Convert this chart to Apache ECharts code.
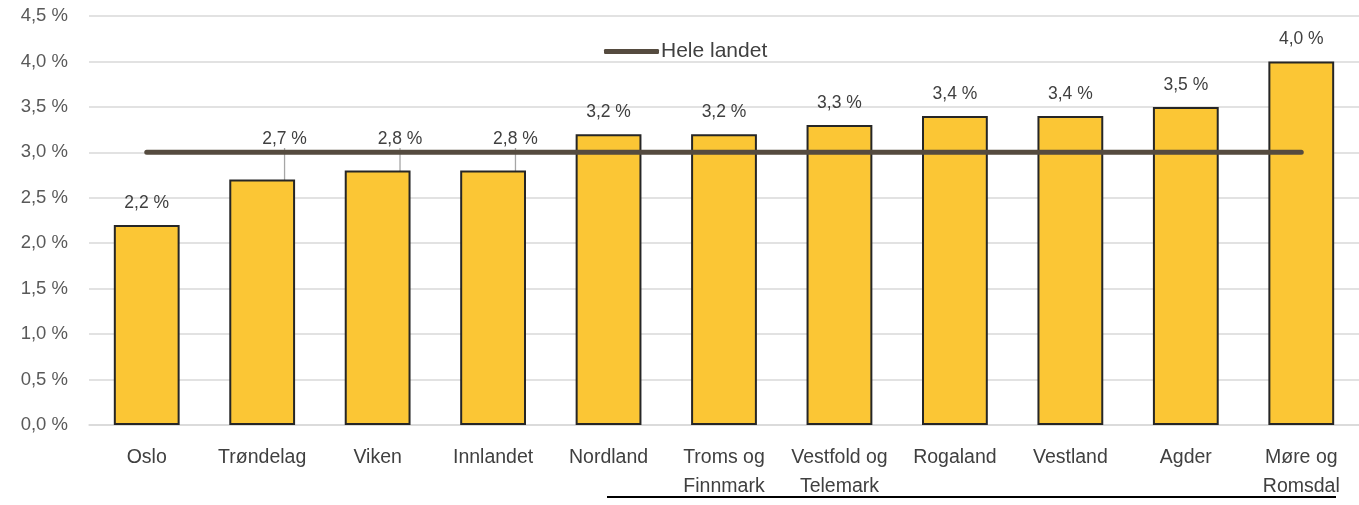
<!DOCTYPE html>
<html>
<head>
<meta charset="utf-8">
<script src="https://cdn.jsdelivr.net/npm/echarts@6/dist/echarts.min.js"></script>
<style>
  html, body { margin: 0; padding: 0; background: #fff; }
  #Chart { width: 1359px; height: 505px; }
</style>
</head>
<body>
<div id="Chart"></div>
<script>
  // fylker, sortert stigende
  var fylker = ['Oslo', 'Trøndelag', 'Viken', 'Innlandet', 'Nordland', 'Troms og\nFinnmark',
    'Vestfold og\nTelemark', 'Rogaland', 'Vestland', 'Agder', 'Møre og\nRomsdal']
  var andel = [2.2, 2.7, 2.8, 2.8, 3.2, 3.2, 3.3, 3.4, 3.4, 3.5, 4.0]
  var heleLandet = [3.0, 3.0, 3.0, 3.0, 3.0, 3.0, 3.0, 3.0, 3.0, 3.0, 3.0]
  // labels som er flyttet opp over linja
  var flyttet = [1, 2, 3]

  var font = '"Liberation Sans", sans-serif'
  var fmt = function (v) { return v.toFixed(1).replace('.', ',') + ' %' }

  var barData = andel.map(function (v, i) {
    var moved = flyttet.indexOf(i) >= 0
    return { value: v, labelLine: { show: moved } }
  })

  var Chart = echarts.init(document.getElementById('Chart'))
  Chart.setOption({
    animation: false,
    textStyle: { fontFamily: font },
    grid: { left: 89, right: 0, top: 16, bottom: 80 },
    legend: {
      left: 599, top: 36,
      icon: 'roundRect',
      itemWidth: 55, itemHeight: 5, itemGap: 4,
      data: ['Hele landet'],
      textStyle: { fontFamily: font, fontSize: 21, color: '#404040', padding: [0, 0, 0, -3] }
    },
    xAxis: {
      type: 'category',
      data: fylker,
      axisLine: { lineStyle: { color: '#d9d9d9', width: 1.5 } },
      axisTick: { show: false },
      axisLabel: { fontFamily: font, fontSize: 19.5, color: '#404040', margin: 18, lineHeight: 29, interval: 0 }
    },
    yAxis: {
      type: 'value',
      min: 0, max: 4.5, interval: 0.5,
      axisLabel: { fontFamily: font, fontSize: 18.5, color: '#595959', margin: 21, formatter: fmt },
      splitLine: { lineStyle: { color: '#d9d9d9', width: 1.5 } }
    },
    series: [{
      name: 'Andel',
      type: 'bar',
      data: barData,
      barWidth: '57%',
      itemStyle: { color: '#fbc635', borderColor: '#262626', borderWidth: 2 },
      label: {
        show: true, position: 'top', distance: 13,
        fontFamily: font, fontSize: 17.5, color: '#404040',
        formatter: function (p) { return fmt(p.value) }
      },
      labelLine: { show: false, lineStyle: { color: '#a6a6a6', width: 1.3 } },
      labelLayout: function (p) {
        if (flyttet.indexOf(p.dataIndex) >= 0) {
          return { y: 130 }
        }
      }
    }, {
      name: 'Hele landet',
      type: 'line',
      data: heleLandet,
      symbol: 'none',
      z: 5,
      itemStyle: { color: '#554b3f' },
      lineStyle: { color: '#554b3f', width: 5, cap: 'round' }
    }],
    graphic: [{
      type: 'line',
      shape: { x1: 607, y1: 497, x2: 1336, y2: 497 },
      style: { stroke: '#000', lineWidth: 2 }
    }]
  })
</script>
</body>
</html>
